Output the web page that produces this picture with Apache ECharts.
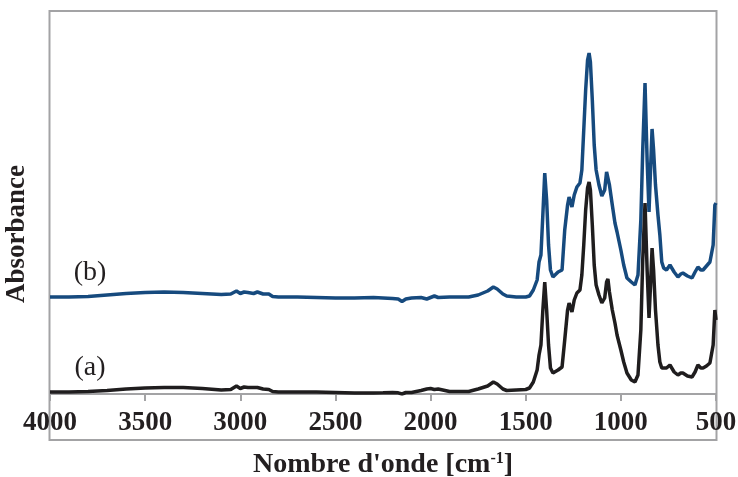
<!DOCTYPE html>
<html>
<head>
<meta charset="utf-8">
<script src="https://cdn.jsdelivr.net/npm/echarts@6/dist/echarts.min.js"></script>
<style>
html,body{margin:0;padding:0;background:#fff;}
#chart{width:738px;height:477px;}
</style>
</head>
<body>
<div id="chart"></div>
<script>
// Wavenumbers (cm-1) and absorbance (arbitrary units)
const wavenumbers = [4000,3900,3800,3700,3600,3500,3400,3300,3200,3100,3050,3020,3000,2980,2960,2930,2910,2880,2850,2830,2800,2700,2600,2500,2400,2300,2250,2200,2170,2150,2130,2100,2050,2020,2000,1980,1960,1900,1800,1750,1700,1670,1650,1620,1600,1550,1500,1480,1460,1440,1430,1420,1410,1400,1390,1380,1370,1357,1330,1309,1295,1280,1272,1257,1245,1231,1215,1205,1195,1185,1175,1167,1160,1150,1140,1130,1115,1100,1094,1085,1075,1068,1060,1045,1031,1020,1000,985,968,945,926,910,895,885,873,862,852,844,836,828,818,805,795,785,775,760,742,720,700,685,674,650,626,610,595,580,568,550,532,515,506,500];

const seriesB = [97,97,97.5,99,100.5,101.5,102,101.5,100.5,99.5,100,103,100.5,102,101.5,100.5,102,100,100,97.5,97,97,96.5,96,96,96.5,96,95.5,95,92.5,95,96,96.5,95,96.5,98,96.5,97,97,99,103,107,105,100,98,97,97,98,104,114,132,139,179,221,194,149,124,117,122,124,164,189,197,187,199,207,211,224,264,304,334,341,332,294,249,224,209,198,196,204,222,224,209,189,171,162,144,129,116,112,109,119,174,244,311,234,182,224,265,244,209,179,159,132,126,124,129,122,117,120,121,118,116,122,127,124,124,128,132,149,189,191];

const seriesA = [2,2,2.5,3.5,5,6,6.5,6.5,5.5,4,4.5,8,5.5,7,6.5,6.5,6.5,5,4.5,2.5,2,2,2,1.5,1,1,1.2,1.5,1.2,0,1.5,1.5,3.5,5,5.5,4.5,5,2.5,2.5,5,8,12,10,5,3.5,4,4.5,6,12,24,39,49,84,112,84,49,26,21,24,27,54,84,91,82,94,101,104,119,149,184,206,212,204,169,129,109,99,91,89,96,112,115,102,84,71,59,44,32,21,14,12,19,64,134,191,124,76,109,146,124,84,49,32,26,26,26,29,22,19,21,21,18,17,22,29,26,26,28,31,49,84,74];

const xTicks = [4000,3500,3000,2500,2000,1500,1000,500];
const seriesLabels = ['(b)', '(a)'];
const xTitle = "Nombre d'onde [cm";
const yTitle = 'Absorbance';

const toPairs = (xs, ys) => xs.map((x, i) => [x, ys[i]]);

const chart = echarts.init(document.getElementById('chart'), null, {renderer: 'canvas'});
const serif = '"Liberation Serif", "Times New Roman", serif';

chart.setOption({
  animation: false,
  backgroundColor: '#ffffff',
  grid: {left: 50, right: 22, top: 11, bottom: 83, containLabel: false, outerBoundsMode: 'none'},
  xAxis: {
    type: 'value',
    inverse: true,
    min: 500,
    max: 4000,
    interval: 500,
    axisLine: {show: true, onZero: false, lineStyle: {color: '#a3a3a5', width: 2}},
    axisTick: {show: true, inside: false, length: 7, lineStyle: {color: '#a3a3a5', width: 2}},
    splitLine: {show: false},
    axisLabel: {
      show: true, margin: 16, color: '#231f20',
      fontFamily: serif, fontWeight: 'bold', fontSize: 27,
      showMinLabel: true, showMaxLabel: true,
      formatter: v => xTicks.includes(v) ? String(v) : ''
    }
  },
  yAxis: {
    type: 'value', min: 0, max: 383,
    show: false, splitLine: {show: false}
  },
  series: [
    {
      name: '(b)', type: 'line', showSymbol: false, symbol: 'none',
      data: toPairs(wavenumbers, seriesB),
      lineStyle: {color: '#164a7e', width: 3.5}, z: 2
    },
    {
      name: '(a)', type: 'line', showSymbol: false, symbol: 'none',
      data: toPairs(wavenumbers, seriesA),
      lineStyle: {color: '#1f1d1e', width: 3.5}, z: 3
    }
  ],
  graphic: [
    {
      type: 'rect', silent: true, z: 0,
      shape: {x: 49.5, y: 11, width: 667, height: 429},
      style: {fill: 'none', stroke: '#a3a3a5', lineWidth: 2}
    },
    {
      type: 'text', z: 10,
      x: 383, y: 465,
      style: {
        text: '{m|' + xTitle + '}{s|-1}{m|]}',
        textAlign: 'center', textVerticalAlign: 'middle',
        rich: {
          m: {fontFamily: serif, fontWeight: 'bold', fontSize: 28, fill: '#231f20', color: '#231f20'},
          s: {fontFamily: serif, fontWeight: 'bold', fontSize: 16, fill: '#231f20', color: '#231f20', padding: [0, 0, 13, 0]}
        }
      }
    },
    {
      type: 'text', z: 10,
      x: 17, y: 234, rotation: Math.PI / 2,
      style: {
        text: yTitle, textAlign: 'center', textVerticalAlign: 'middle',
        font: 'bold 27px ' + serif, fill: '#231f20'
      }
    },
    {
      type: 'text', z: 10, x: 90, y: 273,
      style: {text: seriesLabels[0], textAlign: 'center', textVerticalAlign: 'middle', font: '28px ' + serif, fill: '#231f20'}
    },
    {
      type: 'text', z: 10, x: 90, y: 368,
      style: {text: seriesLabels[1], textAlign: 'center', textVerticalAlign: 'middle', font: '28px ' + serif, fill: '#231f20'}
    }
  ]
});
</script>
</body>
</html>
